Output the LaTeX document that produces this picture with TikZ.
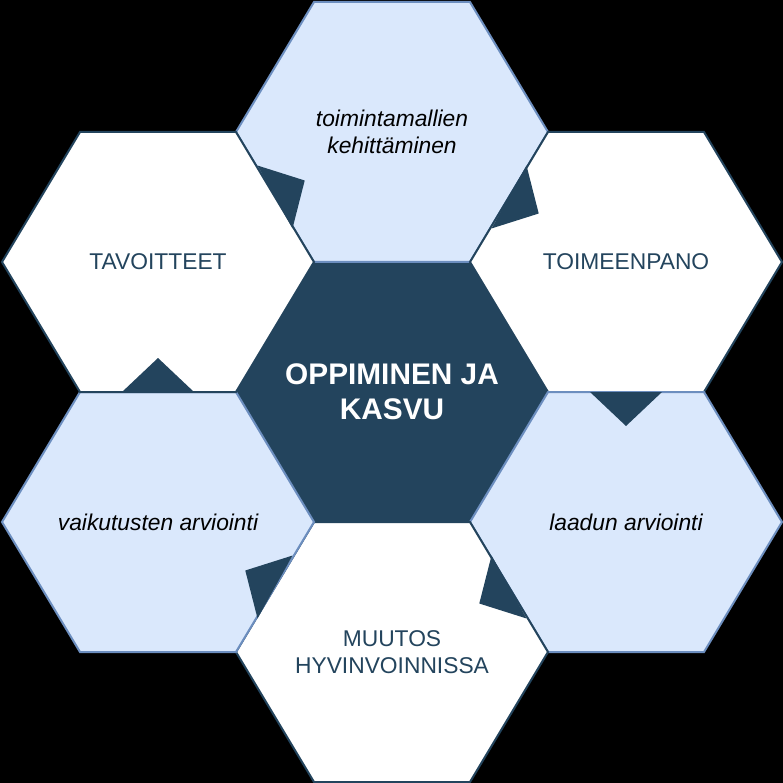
\documentclass[tikz,border=0pt]{standalone}
\usepackage{fontspec}
\setmainfont{Liberation Sans}
\usepackage{xcolor}
\usepackage{tikz}
\usetikzlibrary{calc}
\definecolor{darkBlue}{HTML}{23445D}
\definecolor{lightFill}{HTML}{DAE8FC}
\definecolor{lightLine}{HTML}{6C8EBF}

\begin{document}
\begin{tikzpicture}[x=1pt, y=-1pt]
% style: hex_light
\tikzstyle{hex_light}=[fill=lightFill,draw=lightLine,line width=2pt]
% style: hex_white
\tikzstyle{hex_white}=[fill=white,draw=darkBlue,line width=2pt]
% style: hex_dark
\tikzstyle{hex_dark}=[fill=darkBlue,draw=darkBlue,line width=2pt]
% style: flag_style
\tikzstyle{flag_style}=[fill=darkBlue]
% style: label_dark
\tikzstyle{label_dark}=[align=center,text=darkBlue,font=\fontsize{22.8}{26.5}\selectfont]
% style: label_italic
\tikzstyle{label_italic}=[align=center,text=black,font=\fontsize{22.8}{26.5}\selectfont\itshape]
% style: label_center
\tikzstyle{label_center}=[align=center,text=white,font=\fontsize{29.8}{35}\selectfont\bfseries]

% background
\fill[black] (0,0) rectangle (783,783);
\useasboundingbox (0,0) rectangle (783,783);

% hex centers
\coordinate (center_hex) at (392,392);
\coordinate (top_hex) at (392,132);
\coordinate (top_right_hex) at (626,262);
\coordinate (bottom_right_hex) at (626,522);
\coordinate (bottom_hex) at (392,652);
\coordinate (bottom_left_hex) at (158,522);
\coordinate (top_left_hex) at (158,262);

% hex: center_hex
\draw[hex_dark] (center_hex) ++(-156,0) -- ++(78,-130) -- ++(156,0) -- ++(78,130) -- ++(-78,130) -- ++(-156,0) -- cycle;
% hex: top_hex
\draw[hex_light] (top_hex) ++(-156,0) -- ++(78,-130) -- ++(156,0) -- ++(78,130) -- ++(-78,130) -- ++(-156,0) -- cycle;
% hex: top_right_hex
\draw[hex_white] (top_right_hex) ++(-156,0) -- ++(78,-130) -- ++(156,0) -- ++(78,130) -- ++(-78,130) -- ++(-156,0) -- cycle;
% hex: bottom_right_hex
\draw[hex_light] (bottom_right_hex) ++(-156,0) -- ++(78,-130) -- ++(156,0) -- ++(78,130) -- ++(-78,130) -- ++(-156,0) -- cycle;
% hex: bottom_hex
\draw[hex_white] (bottom_hex) ++(-156,0) -- ++(78,-130) -- ++(156,0) -- ++(78,130) -- ++(-78,130) -- ++(-156,0) -- cycle;
% hex: bottom_left_hex
\draw[hex_light] (bottom_left_hex) ++(-156,0) -- ++(78,-130) -- ++(156,0) -- ++(78,130) -- ++(-78,130) -- ++(-156,0) -- cycle;
% hex: top_left_hex
\draw[hex_white] (top_left_hex) ++(-156,0) -- ++(78,-130) -- ++(156,0) -- ++(78,130) -- ++(-78,130) -- ++(-156,0) -- cycle;

% node: oppiminen
\node[label_center] (oppiminen) at (center_hex) {OPPIMINEN JA\\KASVU};
% node: toimintamallit
\node[label_italic] (toimintamallit) at (top_hex) {toimintamallien\\kehittäminen};
% node: toimeenpano
\node[label_dark] (toimeenpano) at (top_right_hex) {TOIMEENPANO};
% node: laatu
\node[label_italic] (laatu) at (bottom_right_hex) {laadun arviointi};
% node: muutos
\node[label_dark] (muutos) at (bottom_hex) {MUUTOS\\HYVINVOINNISSA};
% node: vaikutukset
\node[label_italic] (vaikutukset) at (bottom_left_hex) {vaikutusten arviointi};
% node: tavoitteet
\node[label_dark] (tavoitteet) at (top_left_hex) {TAVOITTEET};

% flag from tavoitteet to toimintamallit
\coordinate (flag_1) at ($(top_left_hex)!0.5!(top_hex)$);
\fill[flag_style] ($(flag_1)!36pt!90:(top_hex)$) -- ($(flag_1)!34pt!(top_hex)$) -- ($(flag_1)!36pt!-90:(top_hex)$) -- cycle;

% flag from toimintamallit to toimeenpano
\coordinate (flag_2) at ($(top_hex)!0.5!(top_right_hex)$);
\fill[flag_style] ($(flag_2)!36pt!90:(top_right_hex)$) -- ($(flag_2)!34pt!(top_right_hex)$) -- ($(flag_2)!36pt!-90:(top_right_hex)$) -- cycle;

% flag from toimeenpano to laatu
\coordinate (flag_3) at ($(top_right_hex)!0.5!(bottom_right_hex)$);
\fill[flag_style] ($(flag_3)!36pt!90:(bottom_right_hex)$) -- ($(flag_3)!34pt!(bottom_right_hex)$) -- ($(flag_3)!36pt!-90:(bottom_right_hex)$) -- cycle;

% flag from laatu to muutos
\coordinate (flag_4) at ($(bottom_right_hex)!0.5!(bottom_hex)$);
\fill[flag_style] ($(flag_4)!36pt!90:(bottom_hex)$) -- ($(flag_4)!34pt!(bottom_hex)$) -- ($(flag_4)!36pt!-90:(bottom_hex)$) -- cycle;

% flag from muutos to vaikutukset
\coordinate (flag_5) at ($(bottom_hex)!0.5!(bottom_left_hex)$);
\fill[flag_style] ($(flag_5)!36pt!90:(bottom_left_hex)$) -- ($(flag_5)!34pt!(bottom_left_hex)$) -- ($(flag_5)!36pt!-90:(bottom_left_hex)$) -- cycle;

% flag from vaikutukset to tavoitteet
\coordinate (flag_6) at ($(bottom_left_hex)!0.5!(top_left_hex)$);
\fill[flag_style] ($(flag_6)!36pt!90:(top_left_hex)$) -- ($(flag_6)!34pt!(top_left_hex)$) -- ($(flag_6)!36pt!-90:(top_left_hex)$) -- cycle;

\end{tikzpicture}
\end{document}
